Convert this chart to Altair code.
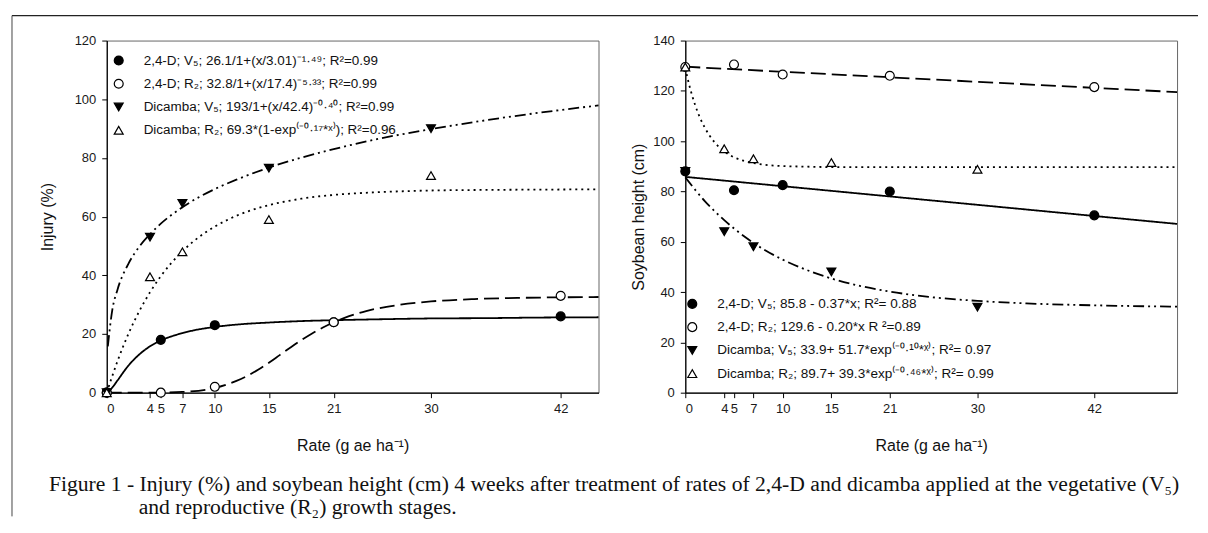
import altair as alt
import pandas as pd

# ---------------- data ----------------
x_ticks = [0, 4, 5, 7, 10, 15, 21, 30, 42]

rates_24d = [0, 5, 10, 21, 42]
rates_dic = [0, 4, 7, 15, 30]

# Injury (%) - left panel
inj_labels = [
    "2,4-D; V₅; 26.1/1+(x/3.01)⁻¹·⁴⁹; R²=0.99",
    "2,4-D; R₂; 32.8/1+(x/17.4)⁻⁵·³³; R²=0.99",
    "Dicamba; V₅; 193/1+(x/42.4)⁻⁰·⁴⁰; R²=0.99",
    "Dicamba; R₂; 69.3*(1-exp⁽⁻⁰·¹⁷*ˣ⁾); R²=0.96",
]
inj_24d_v5 = [0, 18, 23, 24, 26]
inj_24d_r2 = [0, 0, 2, 24, 33]
inj_dic_v5 = [0, 53, 64.5, 76.5, 90]
inj_dic_r2 = [0, 39.5, 48, 59, 74]

# fitted curves
fx_inj_24d_v5 = [0, 0.5, 1, 2, 3, 4, 5, 6, 7, 8, 10, 12, 15, 18, 21, 25, 30, 35, 40, 45.5]
fy_inj_24d_v5 = [0, 1.7, 4.2, 9.2, 13.0, 15.8, 17.8, 19.2, 20.3, 21.2, 22.4, 23.2, 23.9, 24.4, 24.7, 25.0, 25.3, 25.4, 25.6, 25.7]
fx_inj_24d_r2 = [0, 5, 7, 10, 12, 13, 14, 15, 16, 17, 18, 19, 20, 21, 22, 24, 27, 30, 34, 38, 42, 45.5]
fy_inj_24d_r2 = [0, 0.04, 0.25, 1.6, 4.0, 5.7, 7.8, 10.2, 12.8, 15.4, 17.9, 20.2, 22.2, 24.0, 25.5, 27.8, 29.9, 31.1, 31.9, 32.3, 32.5, 32.6]
fx_inj_dic_v5 = [0.1, 0.5, 1, 2, 3, 4, 5, 7, 10, 12, 15, 18, 21, 25, 30, 35, 40, 45.5]
fy_inj_dic_v5 = [15.8, 27.9, 35.2, 43.9, 49.7, 54.0, 57.6, 63.2, 69.4, 72.6, 76.7, 80.1, 83.0, 86.4, 89.8, 92.8, 95.4, 97.9]
fx_inj_dic_r2 = [0, 1, 2, 3, 4, 5, 6, 7, 8, 10, 12, 15, 18, 21, 25, 30, 35, 40, 45.5]
fy_inj_dic_r2 = [0, 10.8, 20.0, 27.7, 34.2, 39.7, 44.3, 48.2, 51.5, 56.6, 60.3, 63.9, 66.1, 67.4, 68.3, 68.9, 69.1, 69.2, 69.3]

# Soybean height (cm) - right panel
ht_labels = [
    "2,4-D; V₅; 85.8 - 0.37*x; R²= 0.88",
    "2,4-D; R₂; 129.6 - 0.20*x R ²=0.89",
    "Dicamba; V₅; 33.9+ 51.7*exp⁽⁻⁰·¹⁰*ˣ⁾; R²= 0.97",
    "Dicamba; R₂; 89.7+ 39.3*exp⁽⁻⁰·⁴⁶*ˣ⁾; R²= 0.99",
]
ht_24d_v5 = [88, 80.5, 82.5, 80, 70.5]
ht_24d_r2 = [129.5, 130.5, 126.5, 126, 121.5]
ht_dic_v5 = [88, 64, 58, 48, 34]
ht_dic_r2 = [129.5, 97, 93, 91.5, 88.8]

fx_ht_24d_v5 = [0, 50.5]
fy_ht_24d_v5 = [85.8, 67.1]
fx_ht_24d_r2 = [0, 50.5]
fy_ht_24d_r2 = [129.6, 119.5]
fx_ht_dic_v5 = [0, 2, 4, 6, 8, 10, 12, 15, 18, 21, 25, 30, 35, 40, 45, 50.5]
fy_ht_dic_v5 = [85.6, 76.2, 68.6, 62.3, 57.1, 52.9, 49.5, 45.4, 42.4, 40.2, 38.1, 36.5, 35.5, 34.9, 34.5, 34.2]
fx_ht_dic_r2 = [0, 0.5, 1, 1.5, 2, 3, 4, 5, 6, 8, 10, 12, 15, 20, 30, 40, 50.5]
fy_ht_dic_r2 = [129.0, 120.9, 114.5, 109.4, 105.4, 99.6, 95.9, 93.6, 92.2, 90.7, 90.1, 89.9, 89.7, 89.7, 89.7, 89.7, 89.7]

caption_1 = ("Figure 1 - Injury (%) and soybean height (cm) 4 weeks after treatment of rates of "
             "2,4-D and dicamba applied at the vegetative (V₅)")
caption_2 = "and reproductive (R₂) growth stages."

# ---------------- build tables ----------------
def points_table(labels, ys):
    rows = []
    for lab, rates, vals in zip(labels, [rates_24d, rates_24d, rates_dic, rates_dic], ys):
        for r, v in zip(rates, vals):
            rows.append({"s": lab, "x": r, "y": v})
    return pd.DataFrame(rows)

def curves_table(labels, xs, ys):
    rows = []
    for lab, cx, cy in zip(labels, xs, ys):
        for i, (a, b) in enumerate(zip(cx, cy)):
            rows.append({"s": lab, "x": a, "y": b, "o": i})
    return pd.DataFrame(rows)

inj_pts = points_table(inj_labels, [inj_24d_v5, inj_24d_r2, inj_dic_v5, inj_dic_r2])
inj_fit = curves_table(inj_labels,
                       [fx_inj_24d_v5, fx_inj_24d_r2, fx_inj_dic_v5, fx_inj_dic_r2],
                       [fy_inj_24d_v5, fy_inj_24d_r2, fy_inj_dic_v5, fy_inj_dic_r2])
ht_pts = points_table(ht_labels, [ht_24d_v5, ht_24d_r2, ht_dic_v5, ht_dic_r2])
ht_fit = curves_table(ht_labels,
                      [fx_ht_24d_v5, fx_ht_24d_r2, fx_ht_dic_v5, fx_ht_dic_r2],
                      [fy_ht_24d_v5, fy_ht_24d_r2, fy_ht_dic_v5, fy_ht_dic_r2])

FONT = "Liberation Sans"
W, H = 493, 353
shapes = ["circle", "circle", "triangle-down", "triangle-up"]
fills = ["black", "white", "black", "white"]
dashes = [[1, 0], [15, 6], [11, 4, 2, 4, 2, 4], [2, 4]]
MARK_SIZE = 80


def legend_layers(labels, mx, tx, y0, step, fs):
    out = []
    for i, lab in enumerate(labels):
        d = pd.DataFrame({"t": [lab]})
        y = y0 + i * step
        out.append(alt.Chart(d).mark_point(size=MARK_SIZE, strokeWidth=1.2, color="black",
                                           opacity=1, fillOpacity=1, shape=shapes[i],
                                           fill=fills[i]).encode(
            x=alt.value(mx), y=alt.value(y)))
        out.append(alt.Chart(d).mark_text(align="left", baseline="middle", font=FONT,
                                          fontSize=fs, color="#111").encode(
            text="t:N", x=alt.value(tx), y=alt.value(y)))
    return out


def panel(pts, fit, labels, xmax, ymax, ystep, ytitle, ytpad, leg):
    xs = alt.Scale(domain=[0, xmax], nice=False, zero=False)
    ys = alt.Scale(domain=[0, ymax], nice=False)
    xaxis = alt.Axis(values=x_ticks, title="Rate (g ae ha⁻¹)", labelPadding=5,
                     titlePadding=22)
    yaxis = alt.Axis(values=list(range(0, ymax + 1, ystep)), title=ytitle,
                     labelPadding=6, titlePadding=ytpad)
    lines = alt.Chart(fit).mark_line(color="black", strokeWidth=1.8,
                                     interpolate="monotone").encode(
        x=alt.X("x:Q", scale=xs, axis=xaxis),
        y=alt.Y("y:Q", scale=ys, axis=yaxis),
        detail="s:N",
        order="o:Q",
        strokeDash=alt.StrokeDash("s:N", scale=alt.Scale(domain=labels, range=dashes),
                                  legend=None),
    )
    points = alt.Chart(pts).mark_point(size=MARK_SIZE, strokeWidth=1.2, color="black",
                                       opacity=1, fillOpacity=1).encode(
        x=alt.X("x:Q", scale=xs, axis=xaxis),
        y=alt.Y("y:Q", scale=ys, axis=yaxis),
        shape=alt.Shape("s:N", scale=alt.Scale(domain=labels, range=shapes), legend=None),
        fill=alt.Fill("s:N", scale=alt.Scale(domain=labels, range=fills), legend=None),
    )
    return alt.layer(lines, points, *leg)


left = panel(inj_pts, inj_fit, inj_labels, 45.5, 120, 20, "Injury (%)", 19,
             legend_layers(inj_labels, 12, 37, 20, 23.3, 13.5))
right = panel(ht_pts, ht_fit, ht_labels, 50.5, 140, 20, "Soybean height (cm)", 6,
              legend_layers(ht_labels, 7, 32, 264, 23.3, 13.6))

# outer frame and caption (page decoration drawn around the left panel)
one = pd.DataFrame({"c1": [caption_1], "c2": [caption_2]})
frame_top = alt.Chart(one).mark_rule(color="#222", strokeWidth=1.5).encode(
    x=alt.value(-95), x2=alt.value(1094), y=alt.value(-25))
frame_left = alt.Chart(one).mark_rule(color="#444", strokeWidth=1).encode(
    x=alt.value(-95), y=alt.value(-25), y2=alt.value(477))
cap1 = alt.Chart(one).mark_text(align="left", baseline="middle", font="Liberation Serif",
                                fontSize=21.7, color="#111").encode(
    text="c1:N", x=alt.value(-58), y=alt.value(445))
cap2 = alt.Chart(one).mark_text(align="left", baseline="middle", font="Liberation Serif",
                                fontSize=21.7, color="#111").encode(
    text="c2:N", x=alt.value(32), y=alt.value(468))

left_full = alt.layer(left, frame_top, frame_left, cap1, cap2).properties(width=W, height=H)
right_full = right.properties(width=W, height=H)

chart = alt.hconcat(left_full, right_full, spacing=87, bounds="flush").resolve_scale(
    x="independent", y="independent", shape="independent", fill="independent",
    strokeDash="independent").properties(
    padding={"left": 2, "top": 5, "right": 0, "bottom": 0}, background="white"
).configure_view(stroke="#666", strokeWidth=1).configure_axis(
    grid=False, domainColor="black", domainWidth=1.2, tickColor="black", tickSize=5,
    labelFont=FONT, labelFontSize=13, labelColor="#1a1a1a",
    titleFont=FONT, titleFontSize=16, titleFontWeight="normal", titleColor="#111",
)

chart.save("out.html", embed_options={"renderer": "svg", "actions": False})
